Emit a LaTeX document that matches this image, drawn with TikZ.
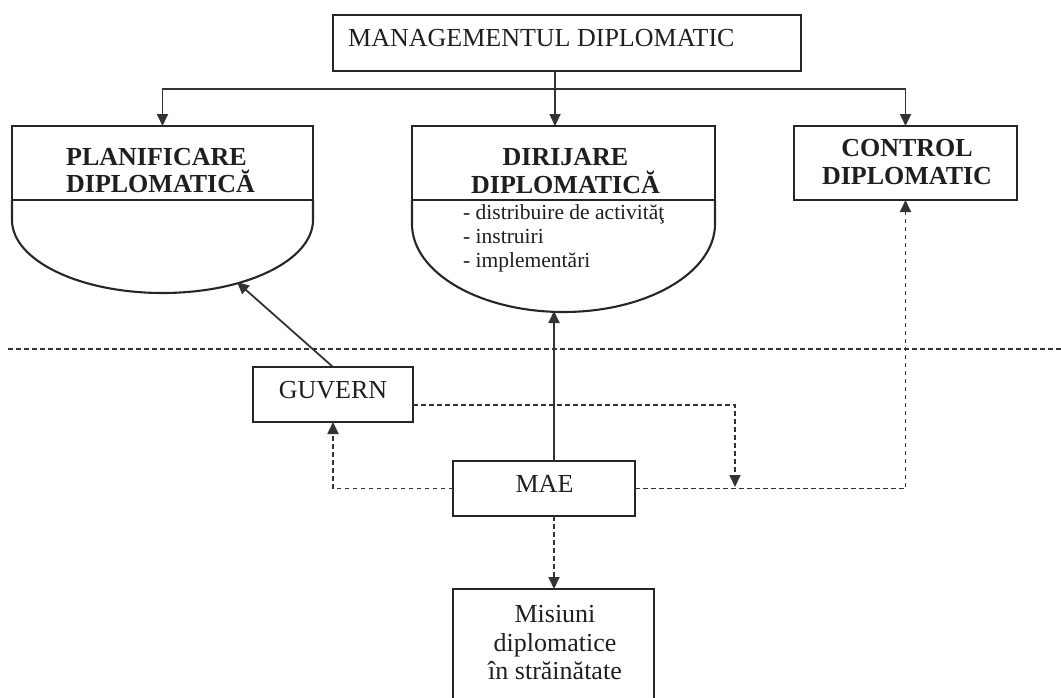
\documentclass[tikz,border=0pt]{standalone}
\usepackage{fontspec}
\setmainfont{Liberation Serif}
\usetikzlibrary{arrows.meta}
\begin{document}
\begin{tikzpicture}[x=1pt,y=-1pt,
  ink/.style={draw=black!85, line width=2.1pt},
  box/.style={ink, rectangle, inner sep=0pt, outer sep=0pt},
  big/.style={font=\fontsize{26}{28.5}\selectfont, text=black!88, inner sep=0pt},
  bigb/.style={font=\fontsize{26}{27.5}\selectfont\bfseries, text=black!88, inner sep=0pt},
  small/.style={font=\fontsize{21.5}{24}\selectfont, text=black!88, inner sep=0pt},
  conn/.style={draw=black!80, line width=1.8pt},
  tip/.style={-{Triangle[length=12pt,width=11pt]}},
  arr/.style={conn, tip},
  dotline/.style={conn, dash pattern=on 4.5pt off 3.5pt},
  dotarr/.style={dotline, tip},
  sepline/.style={conn, line width=1.8pt, dash pattern=on 5pt off 3pt}
]
\useasboundingbox (0,0) rectangle (1061,697);

% boxes
\node[box, minimum width=468pt, minimum height=56pt] (mgmt) at (567,43) {};
\node[big, anchor=west] (mgmtt) at (348,38) {MANAGEMENTUL DIPLOMATIC};

\node[box, minimum width=301pt, minimum height=74pt] (plan) at (162.5,163) {};
\draw[ink] (plan.south west) -- ++(0,20) arc[start angle=180, end angle=0, x radius=150.5, y radius=73] -- (plan.south east);
\node[bigb, align=left] (plant) at (160.5,170.5) {PLANIFICARE\\DIPLOMATICĂ};

\node[box, minimum width=303pt, minimum height=74pt] (dir) at (563.5,163) {};
\draw[ink] (dir.south west) -- ++(0,24) arc[start angle=180, end angle=0, x radius=151.5, y radius=88] -- (dir.south east);
\node[bigb, align=center] (dirt) at (565.5,171) {DIRIJARE\\DIPLOMATICĂ};
\node[small, align=left, anchor=north west] (dirl) at (463,204) {- distribuire de activităţ\\- instruiri\\- implementări};

\node[box, minimum width=223pt, minimum height=74pt] (ctrl) at (905.5,163) {};
\node[bigb, align=center] (ctrlt) at (907,162) {CONTROL\\DIPLOMATIC};

\node[box, minimum width=160pt, minimum height=55pt] (guv) at (333,394.5) {};
\node[big] (guvt) at (333,390) {GUVERN};

\node[box, minimum width=182pt, minimum height=55pt] (mae) at (544,488.5) {};
\node[big] (maet) at (544.5,484) {MAE};

\node[box, minimum width=201pt, minimum height=116pt] (mis) at (553.5,647) {};
\node[big, align=center] (mist) at (555,643) {Misiuni\\diplomatice\\în străinătate};

% separator
\coordinate (sepL) at (8,349);
\coordinate (sepR) at (1061,349);
\draw[sepline] (sepL) -- (sepR);

% top distribution
\coordinate (bus) at (555,89);
\draw[conn] (mgmt.south -| bus) -- (bus);
\draw[arr] (bus) -- (bus |- dir.north);
\draw[arr] (bus) -| (plan.north);
\draw[arr] (bus) -| (ctrl.north);

% solid arrows
\coordinate (dirbot) at (554,311);
\coordinate (plantip) at (237,282);
\draw[arr] (mae.north -| dirbot) -- (dirbot);
\draw[arr] (guv.north) -- (plantip);

% dashed arrows
\coordinate (drop) at (735,487);
\draw[dotarr] ([yshift=-10.5pt]guv.east) -| (drop);
\draw[dotarr] (mae.west) -| (guv.south);
\draw[dotarr] (mae.east) -| (ctrl.south);
\draw[dotarr] (mae.south -| dirbot) -- (mis.north -| dirbot);
\end{tikzpicture}
\end{document}
